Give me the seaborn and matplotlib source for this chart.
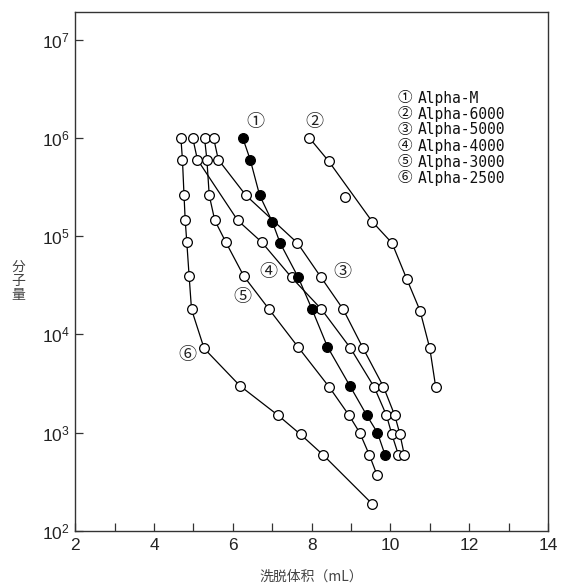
import matplotlib
matplotlib.use("Agg")
import matplotlib.pyplot as plt
import seaborn as sns
import numpy as np
import pandas as pd
from matplotlib.ticker import FixedLocator, NullLocator, FuncFormatter

# ---- data ----
names = ["Alpha-M", "Alpha-6000", "Alpha-5000", "Alpha-4000", "Alpha-3000", "Alpha-2500"]
marks = ["①", "②", "③", "④", "⑤", "⑥"]

s1_x = [6.25, 6.44, 6.68, 7.00, 7.20, 7.66, 8.01, 8.40, 8.97, 9.40, 9.67, 9.86]
s1_y = [1.0e6, 6.0e5, 2.6e5, 1.4e5, 8.5e4, 3.8e4, 1.8e4, 7.5e3, 3.0e3, 1.5e3, 1.0e3, 6.0e2]

s2_x = [7.94, 8.43, 8.85, 9.54, 10.04, 10.41, 10.75, 11.00, 11.15]
s2_y = [1.0e6, 5.8e5, 2.5e5, 1.4e5, 8.5e4, 3.7e4, 1.75e4, 7.2e3, 2.9e3]
s2_on_line = [True, True, False, True, True, True, True, True, True]

s3_x = [5.51, 5.63, 6.33, 7.64, 8.24, 8.80, 9.30, 9.82, 10.11, 10.24, 10.35]
s3_y = [1.0e6, 6.0e5, 2.6e5, 8.5e4, 3.8e4, 1.8e4, 7.3e3, 2.95e3, 1.5e3, 9.7e2, 6.0e2]

s4_x = [4.98, 5.10, 6.12, 6.73, 7.49, 8.25, 8.98, 9.59, 9.90, 10.03, 10.20]
s4_y = [1.0e6, 6.0e5, 1.45e5, 8.7e4, 3.8e4, 1.8e4, 7.3e3, 2.9e3, 1.5e3, 9.8e2, 6.0e2]

s5_x = [5.28, 5.34, 5.40, 5.54, 5.82, 6.28, 6.92, 7.66, 8.45, 8.95, 9.22, 9.46, 9.66]
s5_y = [1.0e6, 6.0e5, 2.6e5, 1.45e5, 8.7e4, 3.9e4, 1.8e4, 7.4e3, 2.9e3, 1.5e3, 1.0e3, 6.0e2, 3.7e2]

s6_x = [4.68, 4.72, 4.76, 4.79, 4.83, 4.89, 4.95, 5.27, 6.18, 7.15, 7.72, 8.28, 9.53]
s6_y = [1.0e6, 6.0e5, 2.6e5, 1.45e5, 8.7e4, 3.9e4, 1.8e4, 7.2e3, 3.0e3, 1.5e3, 9.6e2, 6.0e2, 1.9e2]

x_ticks = list(range(2, 15))
x_labels = [str(v) if v % 2 == 0 else "" for v in x_ticks]
y_ticks = [1e2, 1e3, 1e4, 1e5, 1e6, 1e7]

# in-plot circled labels (data coords)
lab_x = [6.56, 8.08, 8.77, 6.89, 6.23, 4.84]
lab_y = [1.45e6, 1.45e6, 4.35e4, 4.35e4, 2.42e4, 6.2e3]

# ---- figure ----
sns.set_theme(style="ticks")
plt.rcParams["font.family"] = ["Liberation Sans", "DejaVu Sans"]

fig = plt.figure(figsize=(5.61, 5.87), dpi=100)
ax = fig.add_axes([75.3 / 561, 1 - 531 / 587, (548 - 75.3) / 561, (531 - 12) / 587])
ax.set_yscale("log")

line_kw = dict(color="black", linewidth=0.9, sort=False, estimator=None, ax=ax, legend=False)
mk_open = dict(marker="o", markersize=7, markerfacecolor="white", markeredgecolor="black",
               markeredgewidth=0.9)

open_series = [(s6_x, s6_y), (s5_x, s5_y), (s4_x, s4_y), (s3_x, s3_y)]
for xs, ys in open_series:
    sns.lineplot(x=xs, y=ys, **line_kw, **mk_open)

# series 2: line through points on curve, markers for all points
lx = [x for x, k in zip(s2_x, s2_on_line) if k]
ly = [y for y, k in zip(s2_y, s2_on_line) if k]
sns.lineplot(x=lx, y=ly, **line_kw)
sns.lineplot(x=s2_x, y=s2_y, color="black", linewidth=0, sort=False, estimator=None, ax=ax,
             legend=False, **mk_open)

# series 1 filled
sns.lineplot(x=s1_x, y=s1_y, **line_kw, marker="o", markersize=7, markerfacecolor="black",
             markeredgecolor="black", markeredgewidth=0.9)

ax.set_xlim(2, 14)
ax.set_ylim(1e2, 10 ** 7.28)

ax.xaxis.set_major_locator(FixedLocator(x_ticks))
ax.set_xticklabels(x_labels)
ax.xaxis.set_minor_locator(NullLocator())
ax.yaxis.set_major_locator(FixedLocator(y_ticks))
ax.yaxis.set_minor_locator(NullLocator())
ax.yaxis.set_major_formatter(FuncFormatter(lambda v, p: r"$\mathregular{10^{%d}}$" % int(round(np.log10(v)))))

ax.tick_params(axis="both", direction="in", length=6, width=0.9, colors="#333333",
               labelcolor="#222222", labelsize=12.5, top=False, right=False)
ax.tick_params(axis="x", pad=5)
ax.tick_params(axis="y", pad=4)
for sp in ax.spines.values():
    sp.set_color("#333333")
    sp.set_linewidth(1.0)

ax.set_xlabel("")
ax.set_ylabel("")

cjk = ["Noto Sans CJK SC", "DejaVu Sans"]
fig.text(18 / 561, 1 - 281 / 587, "分\n子\n量", family=cjk, fontsize=10, color="#444444",
         ha="center", va="center", linespacing=1.0)
fig.text(311 / 561, 1 - 577 / 587, "洗脱体积（mL）", family=cjk, fontsize=10, color="#444444",
         ha="center", va="center")

# in-plot circled numbers
for m, xx, yy in zip(marks, lab_x, lab_y):
    ax.text(xx, yy, m, family=cjk, fontsize=13, ha="center", va="center", color="#222222")

# legend-like text block
leg_y0 = 98
for i, (m, n) in enumerate(zip(marks, names)):
    y = leg_y0 + i * 16
    fig.text(397 / 561, 1 - y / 587, m, family=cjk, fontsize=10.5, ha="left", va="center",
             color="#111111")
    fig.text(418 / 561, 1 - y / 587, n, family=["DejaVu Sans Mono", "DejaVu Sans"], fontsize=10.5,
             ha="left", va="center", color="#111111")

fig.savefig("out.png", dpi=100)
